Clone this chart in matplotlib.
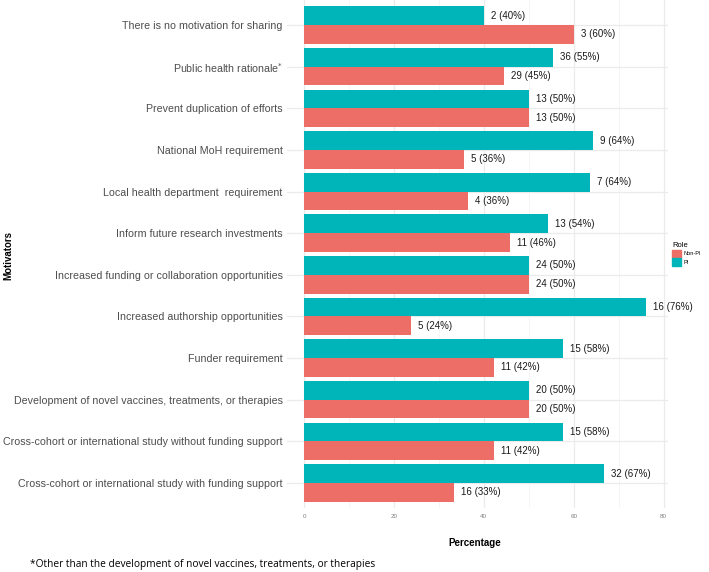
import numpy as np
import matplotlib.pyplot as plt
from matplotlib.patches import Patch

plt.rcParams['font.family'] = ['Liberation Sans', 'DejaVu Sans']

# Motivators, listed top to bottom as in the chart
motivators = ["There is no motivation for sharing",
              "Public health rationale$^{*}$",
              "Prevent duplication of efforts",
              "National MoH requirement",
              "Local health department  requirement",
              "Inform future research investments",
              "Increased funding or collaboration opportunities",
              "Increased authorship opportunities",
              "Funder requirement",
              "Development of novel vaccines, treatments, or therapies",
              "Cross-cohort or international study without funding support",
              "Cross-cohort or international study with funding support"]

# Counts and percentages for each role
pi_n = [2, 36, 13, 9, 7, 13, 24, 16, 15, 20, 15, 32]
pi_pct = [40, 55.4, 50, 64.3, 63.6, 54.2, 50, 76.2, 57.7, 50, 57.7, 66.7]
nonpi_n = [3, 29, 13, 5, 4, 11, 24, 5, 11, 20, 11, 16]
nonpi_pct = [60, 44.6, 50, 35.7, 36.4, 45.8, 50, 23.8, 42.3, 50, 42.3, 33.3]

pi_col = '#00B5B9'
nonpi_col = '#EC6E67'

W, H = 709, 572
fig = plt.figure(figsize=(W / 100, H / 100), dpi=100)
ax = fig.add_axes([287 / W, 1 - 508 / H, (668 - 287) / W, 508 / H])

n = len(motivators)
y = np.arange(n)
bh = 0.45
ax.barh(y - bh / 2, pi_pct, height=bh, color=pi_col, zorder=2)
ax.barh(y + bh / 2, nonpi_pct, height=bh, color=nonpi_col, zorder=2)

for i in range(n):
    ax.annotate(f"{pi_n[i]} ({round(pi_pct[i])}%)", (pi_pct[i], y[i] - bh / 2),
                xytext=(5, 0), textcoords='offset points', va='center',
                ha='left', fontsize=7, color='#1a1a1a')
    ax.annotate(f"{nonpi_n[i]} ({round(nonpi_pct[i])}%)", (nonpi_pct[i], y[i] + bh / 2),
                xytext=(5, 0), textcoords='offset points', va='center',
                ha='left', fontsize=7, color='#1a1a1a')

ax.set_xlim(-3.8, 81)
ax.set_ylim(n - 0.4, -0.6)
ax.set_yticks(y)
ax.set_yticklabels(motivators, fontsize=7.7, color='#4D4D4D')
ax.set_xticks([0, 20, 40, 60, 80])
ax.set_xticks([10, 30, 50, 70], minor=True)
ax.tick_params(axis='x', which='both', length=0, labelsize=4.5, labelcolor='#7F7F7F', pad=4)
ax.tick_params(axis='y', length=0, pad=3)
ax.grid(which='major', color='#EBEBEB', linewidth=0.9, zorder=0)
ax.grid(which='minor', axis='x', color='#F2F2F2', linewidth=0.5, zorder=0)
for s in ax.spines.values():
    s.set_visible(False)

fig.text(475 / W, 1 - 543 / H, "Percentage", ha='center', va='center',
         fontsize=7, fontweight='bold')
fig.text(8 / W, 1 - 255 / H, "Motivators", ha='center', va='center',
         rotation=90, fontsize=7, fontweight='bold')
fig.text(30 / W, 1 - 564 / H,
         "*Other than the development of novel vaccines, treatments, or therapies",
         ha='left', va='center', fontsize=7.3, family=['Open Sans', 'DejaVu Sans'])

handles = [Patch(color=nonpi_col, label='Non-PI'), Patch(color=pi_col, label='PI')]
leg = fig.legend(handles=handles, title='Role', loc='center left',
                 bbox_to_anchor=(668 / W, 1 - 254 / H), frameon=False,
                 fontsize=4, title_fontsize=5.5, handlelength=1.6,
                 handleheight=1.8, handletextpad=0.4, labelspacing=0.1,
                 borderpad=0.2)
leg._legend_box.align = 'left'

fig.savefig('out.png', dpi=100)
